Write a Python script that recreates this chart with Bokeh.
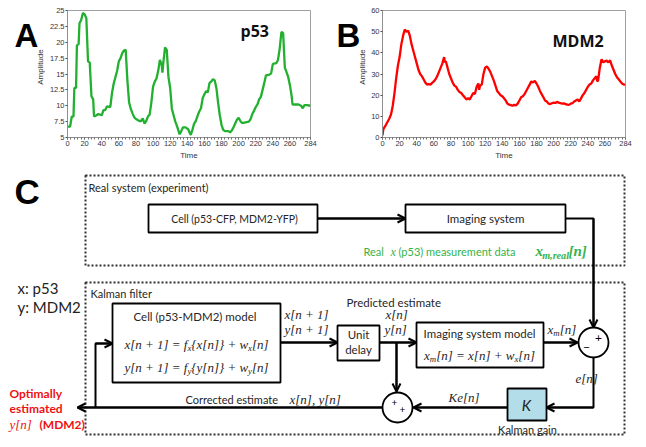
from bokeh.plotting import figure
from bokeh.layouts import column, row
from bokeh.models import Range1d, FixedTicker, Label, Arrow, OpenHead, CustomJSTickFormatter
from bokeh.core.properties import value
from bokeh.embed import file_html
from bokeh.resources import INLINE

# ---------------- data ----------------
t_p53 = [0, 3, 5, 7, 8, 10, 11, 13, 14, 16,
         18, 20, 22, 24, 26, 28, 30, 31, 34, 36,
         40, 42, 44, 46, 50, 52, 54, 56, 58, 60,
         62, 64, 66, 68, 70, 72, 74, 76, 78, 80,
         84, 86, 88, 90, 92, 94, 96, 98, 100, 102,
         104, 106, 108, 110, 111, 112, 114, 116, 118, 120,
         122, 124, 126, 128, 131, 133, 135, 138, 141, 144,
         146, 148, 150, 152, 154, 156, 158, 160, 162, 164,
         166, 168, 170, 172, 174, 176, 178, 180, 182, 184,
         188, 190, 192, 194, 196, 198, 200, 202, 204, 206,
         208, 212, 214, 216, 218, 220, 222, 224, 226, 228,
         230, 232, 236, 238, 240, 244, 246, 248, 250, 252,
         254, 256, 258, 260, 262, 263, 270, 273, 275, 277,
         280, 284]
p53 = [6.7, 6.7, 8.3, 8.3, 12.8, 12.8, 19.5, 19.7, 23, 23.5,
       24.6, 24.4, 23.8, 17, 16.8, 11.5, 11, 8.3, 8.5, 8.7,
       8.5, 9.3, 9.3, 9.9, 9.8, 12, 13.5, 14.5, 15.5, 17,
       17.5, 18.3, 18.7, 18.8, 14, 10.5, 9.5, 8.8, 8.2, 7.9,
       7.6, 7.6, 8.0, 7.2, 7.6, 8.3, 8.6, 10.5, 13, 13.8,
       14.3, 15.5, 17.2, 16.5, 15.2, 16.8, 19.2, 18.8, 14.5, 12.8,
       9.5, 8.5, 7.5, 6.8, 5.5, 6.0, 6.6, 6.6, 6.3, 5.4,
       6.2, 7.2, 7.6, 8.4, 9.1, 9.6, 11.2, 11.8, 12.3, 12.1,
       13.6, 13.8, 14.2, 14, 12.8, 10.5, 8.5, 7, 6.2, 6,
       6, 5.8, 6.1, 6.6, 7.2, 7.8, 8.1, 7.6, 7.3, 7.3,
       7.4, 7.5, 7.9, 8.7, 9.2, 9.8, 10.2, 11, 11.4, 12.5,
       13.6, 14.8, 14.9, 15.1, 16.6, 16.7, 17.2, 19, 21.6, 21.5,
       16, 15.3, 14.5, 13.2, 11.5, 10.2, 10.2, 10.0, 9.6, 10.1,
       10.1, 10.0]

t_mdm2 = [0, 1, 4, 8,
          10, 12, 14, 16, 18, 20, 22, 24, 26, 28,
          30, 32, 34, 36, 38, 40, 42, 44, 46, 48,
          50, 52, 54, 56, 58, 60, 62, 64, 66, 68,
          70, 72, 73,
          74, 76, 78, 80, 82, 84, 86, 88, 90, 92,
          94, 96, 98, 100, 102, 104, 106, 108, 110, 112, 113,
          114, 116, 118, 120, 122, 124, 126, 128, 130, 132,
          134, 136, 138, 140, 142, 144, 146, 148, 150, 152,
          154, 156, 158, 160, 162, 164, 166, 168, 170, 172,
          174, 176, 178, 180, 182, 184, 186, 188, 190, 192,
          194, 196, 198, 200, 202, 204, 206, 208, 210, 212,
          214, 216, 218, 220, 222, 224, 226, 228, 230, 232,
          234, 236, 238, 240, 242, 244, 246, 248, 250, 251,
          252, 254, 256, 258, 260, 262, 264, 266, 268, 270,
          272, 274, 276, 278, 280, 282, 284]
mdm2 = [1, 4, 6, 9,
        11, 15, 21, 28, 34, 38, 44, 48, 51, 50,
        50.5, 48, 44, 41, 38, 35, 32, 30, 29, 27.5,
        26, 25, 25.2, 25, 25.8, 26.5, 27.5, 29, 31, 33,
        35, 38, 35.5,
        36, 33, 30, 28, 26, 24.5, 24, 22.5, 21.5, 21,
        20, 19, 18, 18.5, 18, 19.5, 21, 20.5, 24, 25.5, 22.5,
        24.5, 25, 30, 33, 33.5, 32.5, 31, 29, 27, 24.5,
        22, 21, 20, 19.5, 18.5, 17.5, 16, 15.5, 15.3, 15,
        15.4, 15.2, 16, 17.5, 19, 19.5, 20.5, 22, 23.5, 25,
        26.5, 26, 26.8, 25.5, 24, 22, 20.5, 19, 17.5, 17,
        16, 15.8, 16.2, 16.5, 16.3, 16.8, 16.5, 16.2, 16, 16.1,
        15.8, 15.5, 15.4, 16, 16.2, 17, 17.5, 18, 17, 18.5,
        20, 21, 22.5, 24, 25, 25.5, 27, 28, 29, 26.5,
        27, 33, 37, 35.5, 36, 36.3, 35.5, 36.5, 34, 32,
        30, 28.5, 27.5, 26.5, 25.5, 25, 25]

x_ticks = [0, 20, 40, 60, 80, 100, 120, 140, 160, 180, 200, 220, 240, 260, 284]
x_minor = [0, 4, 8, 12, 16, 20, 24, 28, 32, 36, 40, 44, 48, 52, 56, 60, 64, 68, 72, 76, 80,
           84, 88, 92, 96, 100, 104, 108, 112, 116, 120, 124, 128, 132, 136, 140, 144, 148,
           152, 156, 160, 164, 168, 172, 176, 180, 184, 188, 192, 196, 200, 204, 208, 212,
           216, 220, 224, 228, 232, 236, 240, 244, 248, 252, 256, 260, 264, 268, 272, 276, 280, 284]
y_ticks_p53 = [5, 7.5, 10, 12.5, 15, 17.5, 20, 22.5, 25]
y_ticks_mdm2 = [0, 10, 20, 30, 40, 50, 60]

TOP_H = 165
DIAG_H = 447 - TOP_H
FRAME_W = 243
FRAME_H = 127
FRAME_TOP = 10
AX_FONT = "Liberation Sans"


def letter_fig(w, ch, x, ylab_x):
    f = figure(width=w, height=TOP_H, x_range=Range1d(0, w), y_range=Range1d(TOP_H, 0),
               x_axis_type=None, y_axis_type=None, output_backend="svg", toolbar_location=None,
               min_border=0)
    f.outline_line_color = None
    f.text(x=[x], y=[33], text=[ch], text_font=value("Liberation Sans"), text_font_size="33px",
           text_font_style="bold", text_color="black", text_baseline="alphabetic", text_align="left")
    f.text(x=[ylab_x], y=[FRAME_TOP + FRAME_H / 2], text=["Amplitude"], angle=1.5708,
           text_font=value(AX_FONT), text_font_size="8px", text_color="#333333",
           text_align="center", text_baseline="middle")
    return f


def make_chart(bl, br, t, y, color, yr, yticks, name, name_x, name_y):
    p = figure(frame_width=FRAME_W, frame_height=FRAME_H, x_range=Range1d(0, 284), y_range=Range1d(*yr),
               output_backend="svg", toolbar_location=None,
               min_border_left=bl, min_border_right=br, min_border_top=FRAME_TOP, min_border_bottom=28)
    p.line(t, y, line_color=color, line_width=2.3)
    p.grid.visible = False
    p.outline_line_color = "#a0a0a0"
    p.xaxis.ticker = FixedTicker(ticks=x_ticks, minor_ticks=x_minor)
    p.yaxis.ticker = FixedTicker(ticks=yticks, minor_ticks=[])
    p.xaxis.formatter = CustomJSTickFormatter(code="return String(tick)")
    p.yaxis.formatter = CustomJSTickFormatter(code="return String(tick)")
    for ax in (p.xaxis[0], p.yaxis[0]):
        ax.axis_line_color = "#909090"
        ax.major_tick_line_color = "#505050"
        ax.minor_tick_line_color = "#707070"
        ax.major_tick_in = 0
        ax.major_tick_out = 2
        ax.minor_tick_in = 0
        ax.minor_tick_out = 2
        ax.major_label_text_font = AX_FONT
        ax.major_label_text_font_size = "7.5px"
        ax.major_label_text_color = "#333344"
        ax.major_label_standoff = 1
        ax.axis_label_text_font = AX_FONT
        ax.axis_label_text_font_size = "8px"
        ax.axis_label_text_font_style = "normal"
        ax.axis_label_text_color = "#333333"
        ax.axis_label_standoff = 2
    p.xaxis.axis_label = "Time"
    p.add_layout(Label(x=name_x, y=name_y, x_units="screen", y_units="screen", text=name,
                       text_font="Open Sans", text_font_size="16px", text_font_style="bold",
                       text_color="#111111", text_baseline="alphabetic", text_align="left"))
    return p


lA = letter_fig(45, "A", 14, 40)
pA = make_chart(22, 10, t_p53, p53, "#22b030", (5, 25), y_ticks_p53, "p53", 173, 107)
lB = letter_fig(48, "B", 16, 42)
pB = make_chart(14, 21, t_mdm2, mdm2, "#ff0000", (0, 60), y_ticks_mdm2, "MDM2", 170, 97)

# ---------------- block diagram (C) in page-pixel coordinates ----------------
Y0 = TOP_H
d = figure(width=646, height=DIAG_H, x_range=Range1d(0, 646), y_range=Range1d(Y0 + DIAG_H, Y0),
           x_axis_type=None, y_axis_type=None, output_backend="svg", toolbar_location=None,
           min_border=0)
d.outline_line_color = None

SANS = "Lato"
SERIF = "Liberation Serif"
INK = "#262626"
GREEN = "#35b34a"
RED = "#ee1111"


def txt(x, y, s, size, color=INK, align="left", font=SANS, style="normal", baseline="middle"):
    d.text(x=[x], y=[y], text=[s], text_font=value(font), text_font_size=f"{size}px",
           text_color=color, text_align=align, text_baseline=baseline, text_font_style=style)


TI = {' ': 250, '[': 389, ']': 389, '{': 400, '}': 400, '+': 675, '=': 675, '1': 500, ',': 250,
      'x': 444, 'y': 444, 'n': 500, 'f': 278, 'w': 667, 'm': 722, 'e': 444, 'K': 667,
      'r': 389, 'a': 500, 'l': 278}


def tw(s, size):
    return sum(TI.get(c, 500) for c in s) * size / 1000.0


def mtext(parts, x, y, size=13, align="left", color=INK, style="italic"):
    ws = [tw(s, size * (0.68 if sub else 1)) for s, sub in parts]
    tot = sum(ws)
    cx = x - tot / 2 if align == "center" else x
    for (s, sub), w in zip(parts, ws):
        fs = round(size * 0.68, 1) if sub else size
        if s.strip():
            txt(cx, y + (size * 0.3 if sub else 0), s, fs, color=color, font=SERIF, style=style)
        cx += w


def rect(l, t, r, b, fill="white", dash="solid", lw=1.8, color="black"):
    d.quad(left=[l], right=[r], top=[t], bottom=[b], fill_color=fill, line_color=color,
           line_width=lw, line_dash=dash)


def path(xs, ys, arrow=True, lw=2):
    d.line(xs, ys, line_color="black", line_width=lw)
    if arrow:
        d.add_layout(Arrow(end=OpenHead(size=8, line_width=lw, line_color="black"),
                           x_start=xs[-2], y_start=ys[-2], x_end=xs[-1], y_end=ys[-1],
                           line_width=lw, line_color="black"))


# letter C and legend
txt(14, 191, "C", 35, color="black", font="Liberation Sans", style="bold")
txt(17, 287, "x: p53", 15, color="#222222")
txt(17, 306, "y: MDM2", 15, color="#222222")

# dotted frames
rect(85, 175, 624, 265, fill=None, dash="2 2", lw=2, color="#333333")
rect(85, 282, 624, 434, fill=None, dash="2 2", lw=2, color="#333333")
txt(88, 187, "Real system (experiment)", 11)
txt(90, 293, "Kalman filter", 11)

# real system
path([317, 405], [218, 218])
path([565, 593, 593], [218, 218, 327])
rect(148, 204, 317, 232)
txt(234, 218, "Cell (p53-CFP, MDM2-YFP)", 10.5, align="center")
rect(405, 204, 565, 232)
txt(485, 218, "Imaging system", 11.5, align="center")
txt(363, 251, "Real", 11, color=GREEN)
mtext([("x", False)], 390, 251, size=12, color=GREEN)
txt(398, 251, "(p53) measurement data", 11, color=GREEN)
mtext([("x", False), ("m,real", True), ("[n]", False)], 535, 250, size=15, color=GREEN,
      style="bold italic")

# Kalman filter connections
path([280, 337], [342, 342])
path([379, 416], [342, 342])
path([396, 396], [342, 391])
path([543, 577], [342, 342])
path([593, 593, 546], [357, 407, 407])
path([507, 413], [407, 407])
path([382, 77], [407, 407])
path([95, 95, 112], [407, 343, 343])

# cell model
rect(112, 303, 280, 382)
txt(196, 316, "Cell (p53-MDM2)  model", 11.5, align="center")
mtext([("x[n + 1] = f", False), ("x", True), ("{x[n]} + w", False), ("x", True), ("[n]", False)],
      196, 344, size=13, align="center")
mtext([("y[n + 1] = f", False), ("y", True), ("{y[n]} + w", False), ("y", True), ("[n]", False)],
      196, 367, size=13, align="center")
mtext([("x[n + 1]", False)], 284, 314, size=13)
mtext([("y[n + 1]", False)], 284, 329, size=13)

# unit delay
rect(337, 325, 379, 360)
txt(358, 334, "Unit", 11.5, align="center")
txt(358, 349, "delay", 11.5, align="center")
txt(346, 302, "Predicted estimate", 11.5)
mtext([("x[n]", False)], 385, 314, size=13)
mtext([("y[n]", False)], 384, 329, size=13)

# imaging system model
rect(416, 322, 543, 367)
txt(479, 333, "Imaging system model", 11.5, align="center")
mtext([("x", False), ("m", True), ("[n] = x[n] + w", False), ("x", True), ("[n]", False)],
      479, 355, size=13, align="center")
mtext([("x", False), ("m", True), ("[n]", False)], 547, 329, size=13)

# summing junctions
d.circle(x=[593], y=[342], radius=15, fill_color="white", line_color="black", line_width=1.8)
txt(598, 337, "+", 12, color="black", align="center")
txt(586, 346, "\u2212", 12, color="black", align="center")
d.circle(x=[397], y=[407], radius=15, fill_color="white", line_color="black", line_width=1.8)
txt(394, 402, "+", 10, color="black", align="center")
txt(402, 409, "+", 10, color="black", align="center")
mtext([("e[n]", False)], 575, 378, size=13)

# Kalman gain
rect(507, 388, 546, 420, fill="#b3dde8")
txt(526, 404, "K", 15, color="#222222", align="center", style="italic")
txt(527, 429, "Kalman gain", 11, align="center")
mtext([("Ke[n]", False)], 448, 397, size=13)

# corrected estimate
txt(185, 399, "Corrected estimate", 11)
mtext([("x[n], y[n]", False)], 289, 399, size=13)

# output label
txt(9, 393, "Optimally", 12, color=RED, style="bold")
txt(9, 408, "estimated", 12, color=RED, style="bold")
mtext([("y[n]", False)], 9, 424, size=13, color=RED)
txt(39, 424, "(MDM2)", 12, color=RED, style="bold")

layout = column(row(lA, pA, lB, pB), d)
open("out.html", "w").write(file_html(layout, INLINE))
